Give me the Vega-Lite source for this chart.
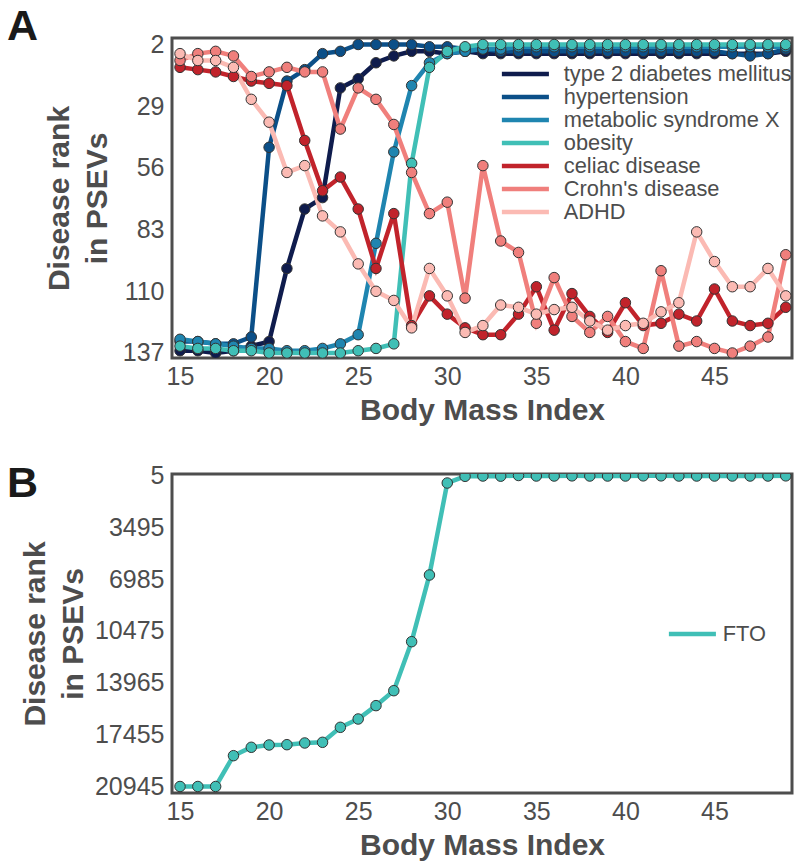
{
  "$schema": "https://vega.github.io/schema/vega-lite/v6.json",
  "padding": {"left": 5, "top": 4, "right": 2, "bottom": 2},
  "spacing": 34,
  "config": {
    "font": "Liberation Sans",
    "view": {"stroke": "#4d4d4d", "strokeWidth": 3},
    "axis": {"grid": false, "ticks": false, "domain": false, "labelFont": "Liberation Sans", "labelFontSize": 25, "labelColor": "#4d4d4d", "labelFlush": false, "labelOverlap": false, "titleFont": "Liberation Sans", "titleFontSize": 30, "titleFontWeight": "bold", "titleColor": "#4d4d4d"},
    "legend": {"labelFont": "Liberation Sans", "labelFontSize": 21.8, "labelColor": "#4d4d4d", "labelLimit": 0, "symbolType": "M-2.94,0L2.94,0", "symbolSize": 256, "symbolStrokeWidth": 4.5, "rowPadding": -0.6, "title": null}
  },
  "datasets": {
    "A": [
      {"bmi":15,"disease":"type 2 diabetes mellitus","rank":136},{"bmi":16,"disease":"type 2 diabetes mellitus","rank":136},{"bmi":17,"disease":"type 2 diabetes mellitus","rank":137},{"bmi":18,"disease":"type 2 diabetes mellitus","rank":136},{"bmi":19,"disease":"type 2 diabetes mellitus","rank":134},{"bmi":20,"disease":"type 2 diabetes mellitus","rank":132},{"bmi":21,"disease":"type 2 diabetes mellitus","rank":100},{"bmi":22,"disease":"type 2 diabetes mellitus","rank":74},{"bmi":23,"disease":"type 2 diabetes mellitus","rank":69},{"bmi":24,"disease":"type 2 diabetes mellitus","rank":21},{"bmi":25,"disease":"type 2 diabetes mellitus","rank":17},{"bmi":26,"disease":"type 2 diabetes mellitus","rank":10},{"bmi":27,"disease":"type 2 diabetes mellitus","rank":7},{"bmi":28,"disease":"type 2 diabetes mellitus","rank":5},{"bmi":29,"disease":"type 2 diabetes mellitus","rank":5},{"bmi":30,"disease":"type 2 diabetes mellitus","rank":6},{"bmi":31,"disease":"type 2 diabetes mellitus","rank":5},{"bmi":32,"disease":"type 2 diabetes mellitus","rank":6},{"bmi":33,"disease":"type 2 diabetes mellitus","rank":6},{"bmi":34,"disease":"type 2 diabetes mellitus","rank":6},{"bmi":35,"disease":"type 2 diabetes mellitus","rank":6},{"bmi":36,"disease":"type 2 diabetes mellitus","rank":6},{"bmi":37,"disease":"type 2 diabetes mellitus","rank":6},{"bmi":38,"disease":"type 2 diabetes mellitus","rank":6},{"bmi":39,"disease":"type 2 diabetes mellitus","rank":6},{"bmi":40,"disease":"type 2 diabetes mellitus","rank":6},{"bmi":41,"disease":"type 2 diabetes mellitus","rank":6},{"bmi":42,"disease":"type 2 diabetes mellitus","rank":6},{"bmi":43,"disease":"type 2 diabetes mellitus","rank":6},{"bmi":44,"disease":"type 2 diabetes mellitus","rank":6},{"bmi":45,"disease":"type 2 diabetes mellitus","rank":6},{"bmi":46,"disease":"type 2 diabetes mellitus","rank":6},{"bmi":47,"disease":"type 2 diabetes mellitus","rank":6},{"bmi":48,"disease":"type 2 diabetes mellitus","rank":6},{"bmi":49,"disease":"type 2 diabetes mellitus","rank":5},
      {"bmi":15,"disease":"hypertension","rank":132},{"bmi":16,"disease":"hypertension","rank":132},{"bmi":17,"disease":"hypertension","rank":133},{"bmi":18,"disease":"hypertension","rank":133},{"bmi":19,"disease":"hypertension","rank":130},{"bmi":20,"disease":"hypertension","rank":47},{"bmi":21,"disease":"hypertension","rank":18},{"bmi":22,"disease":"hypertension","rank":13},{"bmi":23,"disease":"hypertension","rank":6},{"bmi":24,"disease":"hypertension","rank":5},{"bmi":25,"disease":"hypertension","rank":2},{"bmi":26,"disease":"hypertension","rank":2},{"bmi":27,"disease":"hypertension","rank":2},{"bmi":28,"disease":"hypertension","rank":2},{"bmi":29,"disease":"hypertension","rank":3},{"bmi":30,"disease":"hypertension","rank":3},{"bmi":31,"disease":"hypertension","rank":4},{"bmi":32,"disease":"hypertension","rank":4},{"bmi":33,"disease":"hypertension","rank":5},{"bmi":34,"disease":"hypertension","rank":5},{"bmi":35,"disease":"hypertension","rank":5},{"bmi":36,"disease":"hypertension","rank":5},{"bmi":37,"disease":"hypertension","rank":5},{"bmi":38,"disease":"hypertension","rank":5},{"bmi":39,"disease":"hypertension","rank":5},{"bmi":40,"disease":"hypertension","rank":5},{"bmi":41,"disease":"hypertension","rank":5},{"bmi":42,"disease":"hypertension","rank":5},{"bmi":43,"disease":"hypertension","rank":5},{"bmi":44,"disease":"hypertension","rank":5},{"bmi":45,"disease":"hypertension","rank":5},{"bmi":46,"disease":"hypertension","rank":6},{"bmi":47,"disease":"hypertension","rank":7},{"bmi":48,"disease":"hypertension","rank":6},{"bmi":49,"disease":"hypertension","rank":4},
      {"bmi":15,"disease":"metabolic syndrome X","rank":131},{"bmi":16,"disease":"metabolic syndrome X","rank":132},{"bmi":17,"disease":"metabolic syndrome X","rank":133},{"bmi":18,"disease":"metabolic syndrome X","rank":134},{"bmi":19,"disease":"metabolic syndrome X","rank":135},{"bmi":20,"disease":"metabolic syndrome X","rank":135},{"bmi":21,"disease":"metabolic syndrome X","rank":136},{"bmi":22,"disease":"metabolic syndrome X","rank":136},{"bmi":23,"disease":"metabolic syndrome X","rank":135},{"bmi":24,"disease":"metabolic syndrome X","rank":133},{"bmi":25,"disease":"metabolic syndrome X","rank":129},{"bmi":26,"disease":"metabolic syndrome X","rank":89},{"bmi":27,"disease":"metabolic syndrome X","rank":49},{"bmi":28,"disease":"metabolic syndrome X","rank":20},{"bmi":29,"disease":"metabolic syndrome X","rank":10},{"bmi":30,"disease":"metabolic syndrome X","rank":6},{"bmi":31,"disease":"metabolic syndrome X","rank":5},{"bmi":32,"disease":"metabolic syndrome X","rank":4},{"bmi":33,"disease":"metabolic syndrome X","rank":4},{"bmi":34,"disease":"metabolic syndrome X","rank":3},{"bmi":35,"disease":"metabolic syndrome X","rank":3},{"bmi":36,"disease":"metabolic syndrome X","rank":3},{"bmi":37,"disease":"metabolic syndrome X","rank":3},{"bmi":38,"disease":"metabolic syndrome X","rank":3},{"bmi":39,"disease":"metabolic syndrome X","rank":3},{"bmi":40,"disease":"metabolic syndrome X","rank":3},{"bmi":41,"disease":"metabolic syndrome X","rank":3},{"bmi":42,"disease":"metabolic syndrome X","rank":3},{"bmi":43,"disease":"metabolic syndrome X","rank":3},{"bmi":44,"disease":"metabolic syndrome X","rank":3},{"bmi":45,"disease":"metabolic syndrome X","rank":3},{"bmi":46,"disease":"metabolic syndrome X","rank":3},{"bmi":47,"disease":"metabolic syndrome X","rank":3},{"bmi":48,"disease":"metabolic syndrome X","rank":3},{"bmi":49,"disease":"metabolic syndrome X","rank":3},
      {"bmi":15,"disease":"obesity","rank":134},{"bmi":16,"disease":"obesity","rank":135},{"bmi":17,"disease":"obesity","rank":135},{"bmi":18,"disease":"obesity","rank":136},{"bmi":19,"disease":"obesity","rank":136},{"bmi":20,"disease":"obesity","rank":137},{"bmi":21,"disease":"obesity","rank":137},{"bmi":22,"disease":"obesity","rank":137},{"bmi":23,"disease":"obesity","rank":137},{"bmi":24,"disease":"obesity","rank":137},{"bmi":25,"disease":"obesity","rank":136},{"bmi":26,"disease":"obesity","rank":135},{"bmi":27,"disease":"obesity","rank":133},{"bmi":28,"disease":"obesity","rank":54},{"bmi":29,"disease":"obesity","rank":12},{"bmi":30,"disease":"obesity","rank":5},{"bmi":31,"disease":"obesity","rank":3},{"bmi":32,"disease":"obesity","rank":2},{"bmi":33,"disease":"obesity","rank":2},{"bmi":34,"disease":"obesity","rank":2},{"bmi":35,"disease":"obesity","rank":2},{"bmi":36,"disease":"obesity","rank":2},{"bmi":37,"disease":"obesity","rank":2},{"bmi":38,"disease":"obesity","rank":2},{"bmi":39,"disease":"obesity","rank":2},{"bmi":40,"disease":"obesity","rank":2},{"bmi":41,"disease":"obesity","rank":2},{"bmi":42,"disease":"obesity","rank":2},{"bmi":43,"disease":"obesity","rank":2},{"bmi":44,"disease":"obesity","rank":2},{"bmi":45,"disease":"obesity","rank":2},{"bmi":46,"disease":"obesity","rank":2},{"bmi":47,"disease":"obesity","rank":2},{"bmi":48,"disease":"obesity","rank":2},{"bmi":49,"disease":"obesity","rank":2},
      {"bmi":15,"disease":"celiac disease","rank":12},{"bmi":16,"disease":"celiac disease","rank":13},{"bmi":17,"disease":"celiac disease","rank":14},{"bmi":18,"disease":"celiac disease","rank":16},{"bmi":19,"disease":"celiac disease","rank":18},{"bmi":20,"disease":"celiac disease","rank":19},{"bmi":21,"disease":"celiac disease","rank":20},{"bmi":22,"disease":"celiac disease","rank":44},{"bmi":23,"disease":"celiac disease","rank":66},{"bmi":24,"disease":"celiac disease","rank":60},{"bmi":25,"disease":"celiac disease","rank":74},{"bmi":26,"disease":"celiac disease","rank":100},{"bmi":27,"disease":"celiac disease","rank":76},{"bmi":28,"disease":"celiac disease","rank":125},{"bmi":29,"disease":"celiac disease","rank":112},{"bmi":30,"disease":"celiac disease","rank":120},{"bmi":31,"disease":"celiac disease","rank":126},{"bmi":32,"disease":"celiac disease","rank":129},{"bmi":33,"disease":"celiac disease","rank":129},{"bmi":34,"disease":"celiac disease","rank":120},{"bmi":35,"disease":"celiac disease","rank":108},{"bmi":36,"disease":"celiac disease","rank":127},{"bmi":37,"disease":"celiac disease","rank":111},{"bmi":38,"disease":"celiac disease","rank":121},{"bmi":39,"disease":"celiac disease","rank":128},{"bmi":40,"disease":"celiac disease","rank":115},{"bmi":41,"disease":"celiac disease","rank":125},{"bmi":42,"disease":"celiac disease","rank":124},{"bmi":43,"disease":"celiac disease","rank":120},{"bmi":44,"disease":"celiac disease","rank":123},{"bmi":45,"disease":"celiac disease","rank":109},{"bmi":46,"disease":"celiac disease","rank":123},{"bmi":47,"disease":"celiac disease","rank":125},{"bmi":48,"disease":"celiac disease","rank":124},{"bmi":49,"disease":"celiac disease","rank":117},
      {"bmi":15,"disease":"Crohn's disease","rank":9},{"bmi":16,"disease":"Crohn's disease","rank":6},{"bmi":17,"disease":"Crohn's disease","rank":5},{"bmi":18,"disease":"Crohn's disease","rank":7},{"bmi":19,"disease":"Crohn's disease","rank":16},{"bmi":20,"disease":"Crohn's disease","rank":14},{"bmi":21,"disease":"Crohn's disease","rank":12},{"bmi":22,"disease":"Crohn's disease","rank":14},{"bmi":23,"disease":"Crohn's disease","rank":14},{"bmi":24,"disease":"Crohn's disease","rank":39},{"bmi":25,"disease":"Crohn's disease","rank":21},{"bmi":26,"disease":"Crohn's disease","rank":26},{"bmi":27,"disease":"Crohn's disease","rank":37},{"bmi":28,"disease":"Crohn's disease","rank":58},{"bmi":29,"disease":"Crohn's disease","rank":76},{"bmi":30,"disease":"Crohn's disease","rank":71},{"bmi":31,"disease":"Crohn's disease","rank":113},{"bmi":32,"disease":"Crohn's disease","rank":55},{"bmi":33,"disease":"Crohn's disease","rank":88},{"bmi":34,"disease":"Crohn's disease","rank":93},{"bmi":35,"disease":"Crohn's disease","rank":124},{"bmi":36,"disease":"Crohn's disease","rank":104},{"bmi":37,"disease":"Crohn's disease","rank":121},{"bmi":38,"disease":"Crohn's disease","rank":128},{"bmi":39,"disease":"Crohn's disease","rank":121},{"bmi":40,"disease":"Crohn's disease","rank":132},{"bmi":41,"disease":"Crohn's disease","rank":135},{"bmi":42,"disease":"Crohn's disease","rank":101},{"bmi":43,"disease":"Crohn's disease","rank":134},{"bmi":44,"disease":"Crohn's disease","rank":132},{"bmi":45,"disease":"Crohn's disease","rank":135},{"bmi":46,"disease":"Crohn's disease","rank":137},{"bmi":47,"disease":"Crohn's disease","rank":134},{"bmi":48,"disease":"Crohn's disease","rank":130},{"bmi":49,"disease":"Crohn's disease","rank":94},
      {"bmi":15,"disease":"ADHD","rank":6},{"bmi":16,"disease":"ADHD","rank":9},{"bmi":17,"disease":"ADHD","rank":9},{"bmi":18,"disease":"ADHD","rank":12},{"bmi":19,"disease":"ADHD","rank":26},{"bmi":20,"disease":"ADHD","rank":36},{"bmi":21,"disease":"ADHD","rank":58},{"bmi":22,"disease":"ADHD","rank":55},{"bmi":23,"disease":"ADHD","rank":77},{"bmi":24,"disease":"ADHD","rank":84},{"bmi":25,"disease":"ADHD","rank":98},{"bmi":26,"disease":"ADHD","rank":110},{"bmi":27,"disease":"ADHD","rank":114},{"bmi":28,"disease":"ADHD","rank":126},{"bmi":29,"disease":"ADHD","rank":100},{"bmi":30,"disease":"ADHD","rank":112},{"bmi":31,"disease":"ADHD","rank":128},{"bmi":32,"disease":"ADHD","rank":125},{"bmi":33,"disease":"ADHD","rank":116},{"bmi":34,"disease":"ADHD","rank":117},{"bmi":35,"disease":"ADHD","rank":120},{"bmi":36,"disease":"ADHD","rank":118},{"bmi":37,"disease":"ADHD","rank":117},{"bmi":38,"disease":"ADHD","rank":123},{"bmi":39,"disease":"ADHD","rank":127},{"bmi":40,"disease":"ADHD","rank":125},{"bmi":41,"disease":"ADHD","rank":124},{"bmi":42,"disease":"ADHD","rank":119},{"bmi":43,"disease":"ADHD","rank":115},{"bmi":44,"disease":"ADHD","rank":84},{"bmi":45,"disease":"ADHD","rank":97},{"bmi":46,"disease":"ADHD","rank":108},{"bmi":47,"disease":"ADHD","rank":108},{"bmi":48,"disease":"ADHD","rank":100},{"bmi":49,"disease":"ADHD","rank":112}
    ],
    "B": [
      {"bmi":15,"gene":"FTO","rank":20945},{"bmi":16,"gene":"FTO","rank":20945},{"bmi":17,"gene":"FTO","rank":20945},{"bmi":18,"gene":"FTO","rank":18870},{"bmi":19,"gene":"FTO","rank":18305},{"bmi":20,"gene":"FTO","rank":18150},{"bmi":21,"gene":"FTO","rank":18130},{"bmi":22,"gene":"FTO","rank":18015},{"bmi":23,"gene":"FTO","rank":17970},{"bmi":24,"gene":"FTO","rank":16960},{"bmi":25,"gene":"FTO","rank":16400},{"bmi":26,"gene":"FTO","rank":15500},{"bmi":27,"gene":"FTO","rank":14495},{"bmi":28,"gene":"FTO","rank":11195},{"bmi":29,"gene":"FTO","rank":6705},{"bmi":30,"gene":"FTO","rank":510},{"bmi":31,"gene":"FTO","rank":60},{"bmi":32,"gene":"FTO","rank":40},{"bmi":33,"gene":"FTO","rank":50},{"bmi":34,"gene":"FTO","rank":5},{"bmi":35,"gene":"FTO","rank":40},{"bmi":36,"gene":"FTO","rank":40},{"bmi":37,"gene":"FTO","rank":30},{"bmi":38,"gene":"FTO","rank":40},{"bmi":39,"gene":"FTO","rank":40},{"bmi":40,"gene":"FTO","rank":40},{"bmi":41,"gene":"FTO","rank":30},{"bmi":42,"gene":"FTO","rank":30},{"bmi":43,"gene":"FTO","rank":40},{"bmi":44,"gene":"FTO","rank":40},{"bmi":45,"gene":"FTO","rank":40},{"bmi":46,"gene":"FTO","rank":40},{"bmi":47,"gene":"FTO","rank":40},{"bmi":48,"gene":"FTO","rank":40},{"bmi":49,"gene":"FTO","rank":30}
    ]
  },
  "vconcat": [
    {
      "width": 620,
      "height": 320,
      "title": {"text": "A", "anchor": "start", "frame": "group", "fontSize": 43, "fontWeight": "bold", "color": "#1a1a1a", "dx": -165, "offset": 0, "baseline": "alphabetic", "dy": 51},
      "data": {"name": "A"},
      "encoding": {
        "x": {"field": "bmi", "type": "quantitative", "scale": {"domain": [14.55, 49.35], "nice": false, "zero": false}, "axis": {"values": [15, 20, 25, 30, 35, 40, 45], "title": "Body Mass Index", "labelPadding": 6, "titlePadding": 6}},
        "y": {"field": "rank", "type": "quantitative", "scale": {"domain": [-0.84, 139.19], "reverse": true, "nice": false, "zero": false}, "axis": {"values": [2, 29, 56, 83, 110, 137], "format": "d", "title": ["Disease rank", "in PSEVs"], "labelPadding": 8, "titlePadding": 10, "titleLineHeight": 38}}
      },
      "layer": [
        {
          "mark": {"type": "line", "strokeWidth": 4.5, "clip": true},
          "encoding": {
            "color": {"field": "disease", "type": "nominal",
              "scale": {"domain": ["type 2 diabetes mellitus", "hypertension", "metabolic syndrome X", "obesity", "celiac disease", "Crohn's disease", "ADHD"], "range": ["#0f1c4d", "#0b4f88", "#1f85b0", "#40bfb6", "#c1232b", "#f07f7c", "#fbbab3"]},
              "legend": {"orient": "none", "legendX": 342.5, "legendY": 25, "labelOffset": 27.5}}
          }
        },
        {
          "mark": {"type": "point", "filled": true, "size": 110, "stroke": "#333333", "strokeWidth": 1, "opacity": 1, "clip": true},
          "encoding": {
            "fill": {"field": "disease", "type": "nominal",
              "scale": {"domain": ["type 2 diabetes mellitus", "hypertension", "metabolic syndrome X", "obesity", "celiac disease", "Crohn's disease", "ADHD"], "range": ["#0f1c4d", "#0b4f88", "#1f85b0", "#40bfb6", "#c1232b", "#f07f7c", "#fbbab3"]},
              "legend": null}
          }
        }
      ]
    },
    {
      "width": 620,
      "height": 319,
      "title": {"text": "B", "anchor": "start", "frame": "group", "fontSize": 43, "fontWeight": "bold", "color": "#1a1a1a", "dx": -165, "offset": 0, "baseline": "alphabetic", "dy": 76},
      "data": {"name": "B"},
      "encoding": {
        "x": {"field": "bmi", "type": "quantitative", "scale": {"domain": [14.55, 49.35], "nice": false, "zero": false}, "axis": {"values": [15, 20, 25, 30, 35, 40, 45], "title": "Body Mass Index", "labelPadding": 6, "titlePadding": 6}},
        "y": {"field": "rank", "type": "quantitative", "scale": {"domain": [-96, 21383], "reverse": true, "nice": false, "zero": false}, "axis": {"values": [5, 3495, 6985, 10475, 13965, 17455, 20945], "format": "d", "title": ["Disease rank", "in PSEVs"], "labelPadding": 8, "titlePadding": 6, "titleLineHeight": 38}}
      },
      "layer": [
        {
          "mark": {"type": "line", "strokeWidth": 4.5, "clip": true},
          "encoding": {
            "color": {"field": "gene", "type": "nominal", "scale": {"domain": ["FTO"], "range": ["#40bfb6"]}, "legend": {"orient": "none", "legendX": 509.5, "legendY": 149, "labelOffset": 19.5}}
          }
        },
        {
          "mark": {"type": "point", "filled": true, "size": 110, "stroke": "#333333", "strokeWidth": 1, "opacity": 1, "clip": true},
          "encoding": {
            "fill": {"field": "gene", "type": "nominal", "scale": {"domain": ["FTO"], "range": ["#40bfb6"]}, "legend": null}
          }
        }
      ]
    }
  ],
  "resolve": {"scale": {"color": "independent", "fill": "independent"}}
}
